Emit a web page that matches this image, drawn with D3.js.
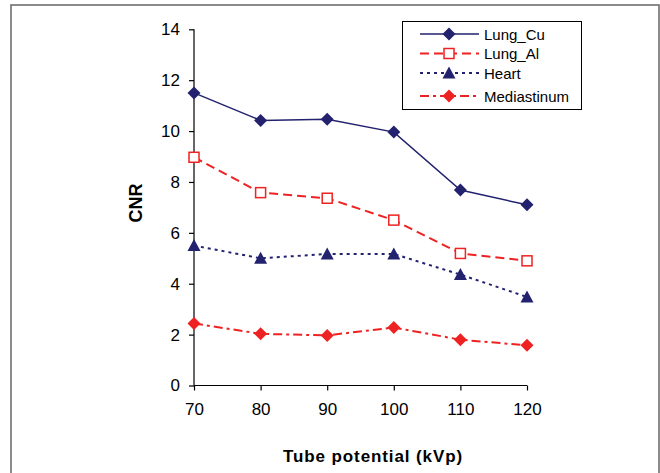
<!DOCTYPE html>
<html>
<head>
<meta charset="utf-8">
<script src="https://cdn.jsdelivr.net/npm/d3@7"></script>
<style>
  body { margin: 0; background: #fff; }
  text { font-family: "Liberation Sans", Arial, sans-serif; }
</style>
</head>
<body>
<div id="chart"></div>
<script>
// tube potential (kVp) on x, CNR on y
var kvp = [70, 80, 90, 100, 110, 120];
var yTicks = [0, 2, 4, 6, 8, 10, 12, 14];

var lungCu = [11.5, 10.42, 10.46, 9.96, 7.68, 7.1];
var lungAl = [8.97, 7.58, 7.36, 6.5, 5.19, 4.9];
var heart = [5.5, 5.0, 5.17, 5.17, 4.36, 3.48];
var mediastinum = [2.44, 2.03, 1.97, 2.28, 1.8, 1.58];

var seriesNames = ["Lung_Cu", "Lung_Al", "Heart", "Mediastinum"];

var w = 660, h = 473;
var svg = d3.select("#chart").append("svg").attr("width", w).attr("height", h);

// outer frame
svg.append("rect")
  .attr("x", 11).attr("y", 5)
  .attr("width", 648).attr("height", 480)
  .attr("fill", "none")
  .attr("stroke", "#6e6e6e")
  .attr("stroke-width", 1.6);

var xScale = d3.scaleLinear().domain([70, 120]).range([194, 527]);
var yScale = d3.scaleLinear().domain([0, 14]).range([385.5, 29.3]);

// axes
var yAxis = d3.axisLeft(yScale).tickValues(yTicks).tickSize(5).tickPadding(9);
var gy = svg.append("g").attr("transform", "translate(" + xScale(70) + ",0)").call(yAxis);
var xAxis = d3.axisBottom(xScale).tickValues(kvp).tickSize(5).tickPadding(12);
var gx = svg.append("g").attr("transform", "translate(0," + yScale(0) + ")").call(xAxis);

[gx, gy].forEach(function(g) {
  g.select(".domain").attr("stroke", "#000").attr("stroke-width", 1.2)
  g.selectAll(".tick line").attr("stroke", "#000").attr("stroke-width", 1.2)
  g.selectAll(".tick text")
    .attr("font-family", "Liberation Sans, Arial, sans-serif")
    .attr("font-size", "17px")
    .attr("fill", "#000")
});
// drop the domain end caps, keep a plain line
gy.select(".domain").attr("d", "M0," + yScale(14) + "V" + yScale(0));
gx.select(".domain").attr("d", "M" + xScale(70) + ",0H" + xScale(120));

// titles
svg.append("text")
  .text("CNR")
  .attr("transform", "translate(142,203) rotate(-90)")
  .attr("text-anchor", "middle")
  .attr("font-size", "18px")
  .attr("font-weight", "bold")
  .attr("fill", "#000");

svg.append("text")
  .text("Tube potential (kVp)")
  .attr("x", 373).attr("y", 462)
  .attr("text-anchor", "middle")
  .attr("font-size", "17px")
  .attr("font-weight", "bold")
  .attr("letter-spacing", "0.9px")
  .attr("fill", "#000");

var navy = "#22226e";
var red = "#ee2222";

var styles = [
  { data: lungCu, color: navy, dash: null, marker: "diamond", fill: navy },
  { data: lungAl, color: red, dash: "9,5", marker: "square", fill: "#fff" },
  { data: heart, color: navy, dash: "3,4", marker: "triangle", fill: navy },
  { data: mediastinum, color: red, dash: "9,4,3,4", marker: "diamond", fill: red }
];

var line = d3.line()
  .x(function(d, i) { return xScale(kvp[i]); })
  .y(function(d) { return yScale(d); });

function drawMarker(g, type, cx, cy, fill, color) {
  if (type === "diamond") {
    g.append("path")
      .attr("d", "M" + cx + "," + (cy - 6.5) + "L" + (cx + 6.5) + "," + cy + "L" + cx + "," + (cy + 6.5) + "L" + (cx - 6.5) + "," + cy + "Z")
      .attr("fill", fill);
  } else if (type === "square") {
    g.append("rect")
      .attr("x", cx - 5).attr("y", cy - 5)
      .attr("width", 10).attr("height", 10)
      .attr("fill", fill)
      .attr("stroke", color)
      .attr("stroke-width", 1.5);
  } else {
    g.append("path")
      .attr("d", "M" + cx + "," + (cy - 6.5) + "L" + (cx + 6.5) + "," + (cy + 5.5) + "L" + (cx - 6.5) + "," + (cy + 5.5) + "Z")
      .attr("fill", fill);
  }
}

styles.forEach(function(s) {
  var g = svg.append("g");
  g.append("path")
    .attr("d", line(s.data))
    .attr("fill", "none")
    .attr("stroke", s.color)
    .attr("stroke-width", s.dash ? 2 : 1.5)
    .attr("stroke-dasharray", s.dash);
  s.data.forEach(function(v, i) {
    drawMarker(g, s.marker, xScale(kvp[i]), yScale(v), s.fill, s.color);
  });
});

// legend
var legend = svg.append("g");
legend.append("rect")
  .attr("x", 402.5).attr("y", 21.5)
  .attr("width", 179).attr("height", 88)
  .attr("fill", "#fff")
  .attr("stroke", "#000")
  .attr("stroke-width", 1);

var legendY = [34, 53.5, 73, 96];
styles.forEach(function(s, i) {
  var y = legendY[i];
  legend.append("line")
    .attr("x1", 420).attr("x2", 479)
    .attr("y1", y).attr("y2", y)
    .attr("stroke", s.color)
    .attr("stroke-width", s.dash ? 2 : 1.5)
    .attr("stroke-dasharray", s.dash);
  drawMarker(legend, s.marker, 449, y, s.fill, s.color);
  legend.append("text")
    .text(seriesNames[i])
    .attr("x", 484).attr("y", y + 5.5)
    .attr("font-size", "15px")
    .attr("fill", "#000");
});
</script>
</body>
</html>
